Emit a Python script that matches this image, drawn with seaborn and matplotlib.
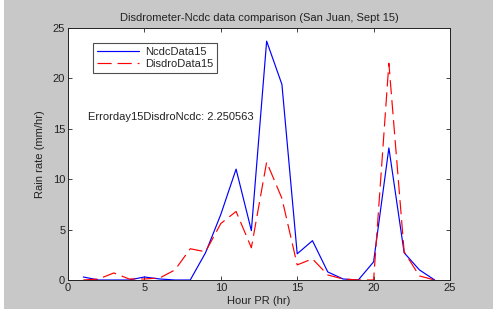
import matplotlib
matplotlib.use("Agg")
import matplotlib.pyplot as plt
import seaborn as sns
import pandas as pd
from matplotlib.lines import Line2D

hours = list(range(1, 25))
ncdc = [0.3, 0.0, 0.0, 0.0, 0.3, 0.1, 0.0, 0.0, 2.7, 6.5, 11.0, 4.9,
        23.7, 19.4, 2.6, 3.9, 0.8, 0.1, 0.0, 1.8, 13.1, 2.7, 1.0, 0.0]
disdro = [0.0, 0.1, 0.7, 0.1, 0.1, 0.2, 1.0, 3.1, 2.8, 5.6, 6.8, 3.2,
          11.7, 8.1, 1.5, 2.1, 0.5, 0.1, 0.0, 0.0, 21.5, 2.8, 0.4, 0.0]
series_names = ["NcdcData15", "DisdroData15"]
title = "Disdrometer-Ncdc data comparison (San Juan, Sept 15)"
annotation = "Errorday15DisdroNcdc: 2.250563"

df = pd.DataFrame({
    "hour": hours * 2,
    "rate": ncdc + disdro,
    "series": [series_names[0]] * len(hours) + [series_names[1]] * len(hours),
})

sns.set_style("ticks")
plt.rcParams["font.family"] = ["Liberation Sans", "DejaVu Sans"]

fig = plt.figure(figsize=(4.93, 3.12), dpi=100)
fig.patch.set_facecolor("white")
bg = plt.Rectangle((4 / 493, 3 / 312), 1, 1, transform=fig.transFigure,
                   facecolor="#c8c8c8", edgecolor="none", zorder=-10)
fig.patches.append(bg)

ax = fig.add_axes([68 / 493, 32 / 312, (450 - 68) / 493, (280 - 28) / 312])
ax.set_facecolor("white")

dash = (12, 5)
sns.lineplot(data=df, x="hour", y="rate", hue="series", style="series",
             palette={series_names[0]: "#0000ff", series_names[1]: "#ff0000"},
             dashes={series_names[0]: "", series_names[1]: dash},
             linewidth=0.85, ax=ax, legend=False)

ax.set_xlim(0, 25)
ax.set_ylim(0, 25)
ax.set_xticks([0, 5, 10, 15, 20, 25])
ax.set_yticks([0, 5, 10, 15, 20, 25])
ax.tick_params(direction="in", top=True, right=True, length=3, width=0.6,
               labelsize=8, colors="#222222", pad=2)
for s in ax.spines.values():
    s.set_linewidth(0.7)
    s.set_color("#222222")
    s.set_visible(True)

ax.set_title(title, fontsize=8, pad=5, color="#222222")
ax.set_xlabel("Hour PR (hr)", fontsize=8, labelpad=2, color="#222222")
ax.set_ylabel("Rain rate (mm/hr)", fontsize=8, labelpad=6, color="#222222")

handles = [Line2D([], [], color="#0000ff", lw=0.85),
           Line2D([], [], color="#ff0000", lw=0.85, dashes=dash)]
leg = ax.legend(handles, series_names, loc="upper left",
                bbox_to_anchor=((93 - 68) / 382, 1 - (43 - 28) / 252),
                fontsize=8, frameon=True, fancybox=False, borderpad=0.35,
                handlelength=3.8, handletextpad=0.5, labelspacing=0.2,
                borderaxespad=0)
leg.get_frame().set_edgecolor("#222222")
leg.get_frame().set_linewidth(0.8)

ax.text(1.3, 16.2, annotation, fontsize=8, va="center", ha="left", color="#222222")

fig.savefig("out.png", dpi=100, facecolor=fig.get_facecolor())
